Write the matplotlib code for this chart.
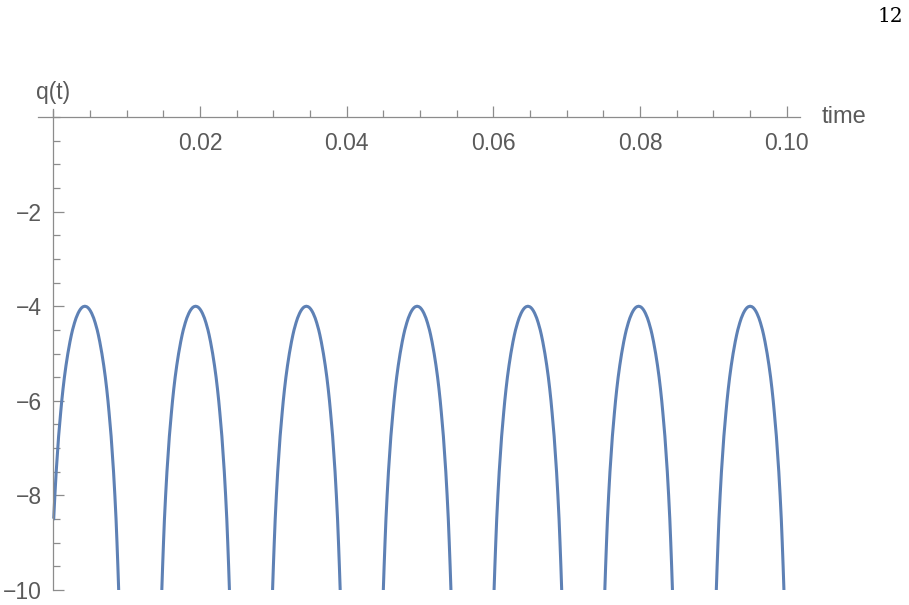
import numpy as np
import matplotlib
matplotlib.use('Agg')
import matplotlib.pyplot as plt
from matplotlib.ticker import MultipleLocator, FixedLocator

# peak times of the arches
peak_times = [0.0043, 0.0194, 0.0345, 0.0496, 0.0647, 0.0798, 0.0950]

# half-arch shape: offset from the peak (s) vs q(t)
arch_offsets = [0.0, 0.00024, 0.00042, 0.00059, 0.00076, 0.00093, 0.0012, 0.00141,
                0.00168, 0.00183, 0.00203, 0.00232, 0.00257, 0.00279, 0.00298, 0.00315,
                0.0033, 0.00344, 0.00358, 0.00369, 0.0038, 0.00391, 0.00409, 0.00425,
                0.00438, 0.0045, 0.00461]
arch_q = [-4.0, -4.01, -4.03, -4.06, -4.1, -4.15, -4.25, -4.35,
          -4.5, -4.6, -4.75, -5.0, -5.25, -5.5, -5.75, -6.0,
          -6.25, -6.5, -6.75, -7.0, -7.25, -7.5, -8.0, -8.5,
          -9.0, -9.5, -10.0]

# curve starts at t = 0
q_start = -8.5

x_major = [0.02, 0.04, 0.06, 0.08, 0.10]
x_labels = ['0.02', '0.04', '0.06', '0.08', '0.10']
y_major = [-2, -4, -6, -8, -10]
y_labels = ['\u22122', '\u22124', '\u22126', '\u22128', '\u221210']

LINE_COL = '#5e81b5'
AXIS_COL = '#8c8c8c'
TEXT_COL = '#5a5a5a'

plt.rcParams['font.family'] = ['Liberation Sans', 'DejaVu Sans']

fig = plt.figure(figsize=(9.09, 6.05), dpi=100)
ax = fig.add_axes([38/909, 15/605, 762/909, 481/605])

offs = np.array(arch_offsets)
qs = np.array(arch_q)
for k, tp in enumerate(peak_times):
    t = np.concatenate([tp - offs[::-1], tp + offs[1:]])
    q = np.concatenate([qs[::-1], qs[1:]])
    if k == 0:
        keep = t > 0
        t = np.concatenate([[0.0], t[keep]])
        q = np.concatenate([[q_start], q[keep]])
    ax.plot(t, q, color=LINE_COL, lw=2.2, solid_capstyle='butt',
            solid_joinstyle='round', clip_on=True)

ax.set_xlim(-0.00209, 0.1018)
ax.set_ylim(-10, 0.17)

for s in ['top', 'right']:
    ax.spines[s].set_visible(False)
ax.spines['left'].set_position(('data', 0))
ax.spines['bottom'].set_position(('data', 0))
for s in ['left', 'bottom']:
    ax.spines[s].set_color(AXIS_COL)
    ax.spines[s].set_linewidth(0.9)

ax.xaxis.set_major_locator(FixedLocator(x_major))
ax.set_xticklabels(x_labels)
ax.xaxis.set_minor_locator(MultipleLocator(0.005))
ax.yaxis.set_major_locator(FixedLocator(y_major))
ax.set_yticklabels(y_labels)
ax.yaxis.set_minor_locator(MultipleLocator(0.5))

ax.tick_params(axis='both', which='major', direction='in', length=8, width=0.9,
               color=AXIS_COL, labelcolor=TEXT_COL, labelsize=16.5)
ax.tick_params(axis='both', which='minor', direction='in', length=5, width=0.9,
               color=AXIS_COL)
ax.tick_params(axis='x', which='major', pad=11)
ax.tick_params(axis='y', which='major', pad=8)

ax.annotate('q(t)', xy=(0, 0.17), xycoords='data', xytext=(0, 5),
            textcoords='offset pixels', ha='center', va='bottom',
            fontsize=16.5, color=TEXT_COL)
ax.annotate('time', xy=(1.0, 0.0), xycoords=('axes fraction', 'data'),
            xytext=(22, 0), textcoords='offset pixels', ha='left', va='center',
            fontsize=17, color=TEXT_COL)

fig.text(903/909, 1 - 7/605, '12', ha='right', va='top', fontsize=14.5,
         family=['DejaVu Serif'], color='black')

fig.savefig('out.png', dpi=100)
